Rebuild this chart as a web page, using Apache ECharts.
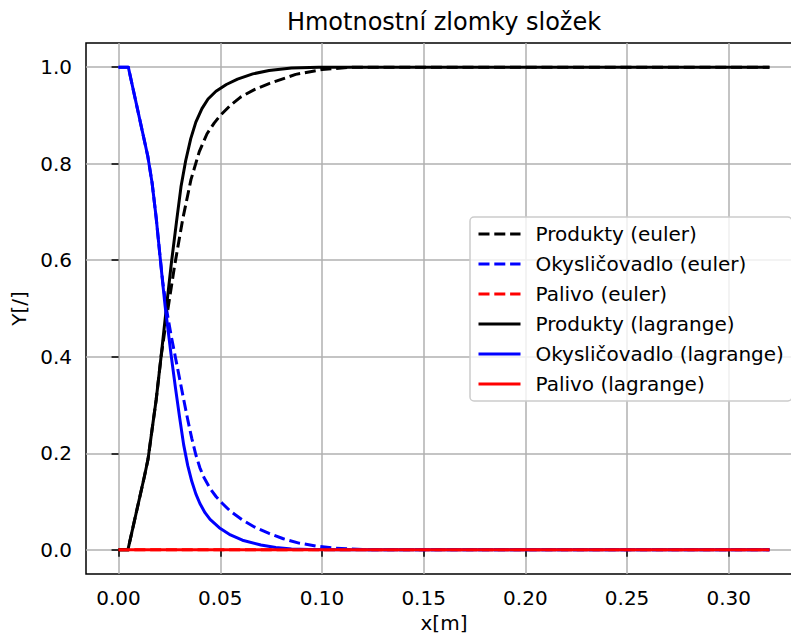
<!DOCTYPE html>
<html><head><meta charset="utf-8">
<script src="https://cdn.jsdelivr.net/npm/echarts@6/dist/echarts.min.js"></script>
<style>html,body{margin:0;padding:0;background:#fff}#c{width:791px;height:634px}</style>
</head><body><div id="c"></div>
<script>
// tick labels
const xTicks = [0, 0.05, 0.10, 0.15, 0.20, 0.25, 0.30];
const yTicks = [0, 0.2, 0.4, 0.6, 0.8, 1.0];

// Produkty (euler) - dashed black
const xProdEuler = [0, 0.0046, 0.0127, 0.0145, 0.0165, 0.0185, 0.0209, 0.0242, 0.0275, 0.0315, 0.0356, 0.0397, 0.0435, 0.0470, 0.0500, 0.0550, 0.0600, 0.0670, 0.0740, 0.0871, 0.1000, 0.1150, 0.3200];
const yProdEuler = [0, 0, 0.152, 0.188, 0.250, 0.311, 0.400, 0.497, 0.587, 0.684, 0.767, 0.825, 0.862, 0.884, 0.900, 0.921, 0.938, 0.954, 0.966, 0.985, 0.995, 1.0, 1.0];

// Okysličovadlo (euler) - dashed blue
const xOxEuler = [0, 0.0048, 0.0144, 0.0165, 0.0185, 0.0203, 0.0217, 0.0237, 0.0258, 0.0279, 0.0300, 0.0320, 0.0340, 0.0360, 0.0380, 0.0400, 0.0420, 0.0450, 0.0480, 0.0511, 0.0550, 0.0609, 0.0670, 0.0740, 0.0810, 0.0887, 0.0970, 0.1067, 0.1200, 0.1300, 0.3200];
const yOxEuler = [1, 1, 0.815, 0.760, 0.688, 0.612, 0.556, 0.496, 0.445, 0.400, 0.355, 0.312, 0.270, 0.231, 0.197, 0.170, 0.150, 0.127, 0.110, 0.096, 0.080, 0.062, 0.047, 0.034, 0.023, 0.014, 0.008, 0.0035, 0.0005, 0, 0];

// Palivo (euler) - dashed red
const xFuelEuler = [0, 0.3200];
const yFuelEuler = [0, 0];

// Produkty (lagrange) - solid black
const xProdLag = [0, 0.0046, 0.0127, 0.0145, 0.0165, 0.0185, 0.0209, 0.0234, 0.0260, 0.0285, 0.0307, 0.0330, 0.0355, 0.0380, 0.0410, 0.0440, 0.0479, 0.0530, 0.0585, 0.0660, 0.0740, 0.0850, 0.0985, 0.3200];
const yProdLag = [0, 0, 0.152, 0.188, 0.250, 0.311, 0.400, 0.497, 0.595, 0.680, 0.752, 0.806, 0.852, 0.886, 0.914, 0.934, 0.950, 0.964, 0.975, 0.986, 0.993, 0.998, 1.0, 1.0];

// Okysličovadlo (lagrange) - solid blue
const xOxLag = [0, 0.0048, 0.0144, 0.0165, 0.0185, 0.0203, 0.0217, 0.0229, 0.0245, 0.0258, 0.0280, 0.0300, 0.0320, 0.0340, 0.0360, 0.0380, 0.0400, 0.0425, 0.0450, 0.0495, 0.0550, 0.0609, 0.0700, 0.0773, 0.0850, 0.0936, 0.1100, 0.3200];
const yOxLag = [1, 1, 0.815, 0.760, 0.688, 0.612, 0.553, 0.505, 0.450, 0.405, 0.335, 0.275, 0.218, 0.175, 0.142, 0.116, 0.096, 0.077, 0.063, 0.046, 0.031, 0.020, 0.010, 0.005, 0.002, 0.001, 0, 0];

// Palivo (lagrange) - solid red
const xFuelLag = [0, 0.3200];
const yFuelLag = [0, 0];

const names = ['Produkty (euler)', 'Okysličovadlo (euler)', 'Palivo (euler)',
               'Produkty (lagrange)', 'Okysličovadlo (lagrange)', 'Palivo (lagrange)'];
const colors = ['#000000', '#0000ff', '#ff0000', '#000000', '#0000ff', '#ff0000'];
const dashed = [true, true, true, false, false, false];
const xs = [xProdEuler, xOxEuler, xFuelEuler, xProdLag, xOxLag, xFuelLag];
const ys = [yProdEuler, yOxEuler, yFuelEuler, yProdLag, yOxLag, yFuelLag];

const FONT = 'DejaVu Sans';
const chart = echarts.init(document.getElementById('c'), null, {renderer: 'svg'});

const series = names.map((n, i) => ({
  name: n,
  type: 'line',
  data: xs[i].map((x, j) => [x, ys[i][j]]),
  symbol: 'none',
  showSymbol: false,
  smooth: false,
  clip: true,
  lineStyle: {color: colors[i], width: 3, type: dashed[i] ? [11, 4.8] : 'solid', cap: 'butt', join: 'round'},
  itemStyle: {color: colors[i]},
  emphasis: {disabled: true},
  z: 2 + i
}));

chart.setOption({
  animation: false,
  backgroundColor: '#ffffff',
  textStyle: {fontFamily: FONT},
  title: {
    text: 'Hmotnostní zlomky složek',
    left: 444, top: 10, textAlign: 'center', padding: 0,
    textStyle: {fontFamily: FONT, fontSize: 24, fontWeight: 'normal', color: '#000'}
  },
  grid: {
    left: 86, top: 43, width: 716, height: 531,
    outerBoundsMode: 'none', containLabel: false,
    show: true, borderColor: '#000', borderWidth: 1.5, backgroundColor: 'transparent'
  },
  legend: {
    orient: 'vertical', left: 470, top: 217,
    data: names,
    itemWidth: 42, itemHeight: 20, itemGap: 10,
    padding: [7, 8, 7, 7],
    backgroundColor: 'rgba(255,255,255,0.8)',
    borderColor: '#cccccc', borderWidth: 1.5, borderRadius: 4,
    selectedMode: false,
    itemStyle: {color: 'rgba(0,0,0,0)', borderColor: 'rgba(0,0,0,0)', borderWidth: 0, opacity: 0},
    lineStyle: {width: 3},
    textStyle: {fontFamily: FONT, fontSize: 20, color: '#000', padding: [0, 0, 0, 10]},
    z: 20
  },
  xAxis: {
    type: 'value', min: -0.016, max: 0.336,
    name: 'x[m]', nameLocation: 'middle', nameGap: 37,
    nameTextStyle: {fontFamily: FONT, fontSize: 20, lineHeight: 20, color: '#000'},
    axisLine: {show: false},
    axisTick: {show: true, customValues: xTicks, length: 7, lineStyle: {color: '#000', width: 1.5}},
    axisLabel: {customValues: xTicks, formatter: v => Number(v).toFixed(2), fontFamily: FONT, fontSize: 20, color: '#000', margin: 14},
    splitLine: {show: true, lineStyle: {color: '#b0b0b0', width: 1.5}}
  },
  yAxis: {
    type: 'value', min: -0.05, max: 1.05,
    name: 'Y[/]', nameLocation: 'middle', nameGap: 56,
    nameTextStyle: {fontFamily: FONT, fontSize: 20, color: '#000'},
    axisLine: {show: false},
    axisTick: {show: true, customValues: yTicks, length: 7, lineStyle: {color: '#000', width: 1.5}},
    axisLabel: {customValues: yTicks, formatter: v => Number(v).toFixed(1), fontFamily: FONT, fontSize: 20, color: '#000', margin: 14},
    splitLine: {show: true, lineStyle: {color: '#b0b0b0', width: 1.5}}
  },
  series: series
});
</script>
</body></html>
